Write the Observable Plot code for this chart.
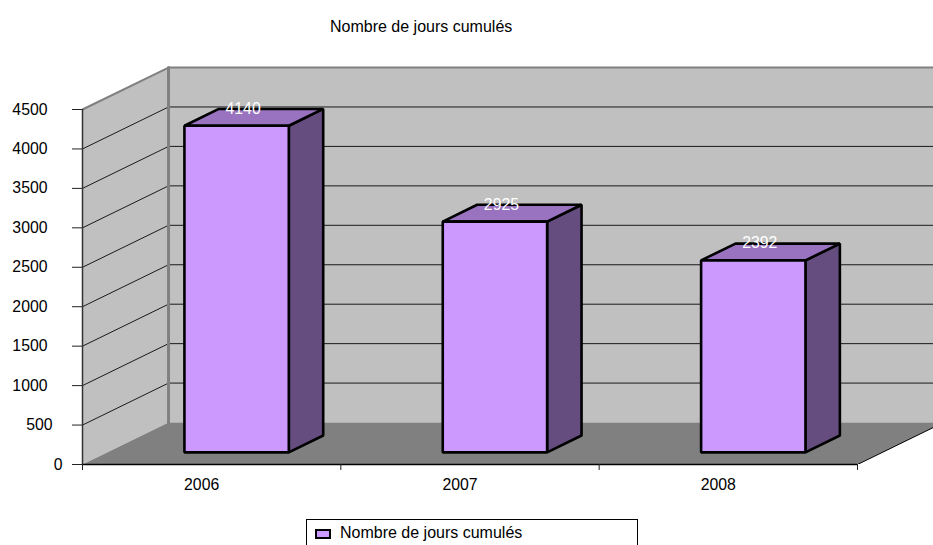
<!DOCTYPE html>
<html><head><meta charset="utf-8">
<script src="https://cdn.jsdelivr.net/npm/d3@7"></script>
<script src="https://cdn.jsdelivr.net/npm/@observablehq/plot@0.6"></script>
<style>
html,body{margin:0;padding:0;background:#fff;overflow:hidden;height:545px;width:933px;font-family:"Liberation Sans",Arial,sans-serif;color:#000}
#head{height:50px;position:relative}
#title{position:absolute;left:330px;top:19px;font-size:16px;line-height:16px;white-space:nowrap}
#chart{height:450px}
#chart svg{display:block}
#legend{position:absolute;left:306px;top:519px;width:330px;height:40px;border:1px solid #000;box-sizing:content-box}
#swatch{position:absolute;left:8px;top:9px;width:12px;height:6px;border:2.5px solid #000;background:#cc99ff}
#ltext{position:absolute;left:33px;top:5px;font-size:16px;line-height:16px;white-space:nowrap}
</style></head><body>
<div id="head"><div id="title"></div></div>
<div id="chart"></div>
<div id="legend"><div id="swatch"></div><div id="ltext"></div></div>
<script>
const titleText = "Nombre de jours cumulés";
const categories = ["2006", "2007", "2008"];
const labelValues = [4140, 2925, 2392];   // numbers printed on the bars
const barHeights = [4140, 2925, 2433];    // heights (the 2008 bar stands a little above its label)
const yTicks = [0, 500, 1000, 1500, 2000, 2500, 3000, 3500, 4000, 4500];
const gridValues = [500, 1000, 1500, 2000, 2500, 3000, 3500, 4000];

const yMax = 4500, nCat = categories.length;
// oblique projection, in data units: a full step of depth moves right and up
const depthX = 0.333, depthY = 532;
const barFront = 0.29, barBack = 0.69, barWidth = 0.404;
const P = (c, v, d) => ({x: c + d * depthX, y: v + d * depthY});
const poly = (id, pts) => pts.map(([c, v, d]) => ({id, ...P(c, v, d)}));

const backWall = poly("b", [[0,0,1],[nCat,0,1],[nCat,yMax,1],[0,yMax,1]]);
const sideWall = poly("s", [[0,0,0],[0,0,1],[0,yMax,1],[0,yMax,0]]);
const floor = poly("f", [[0,0,0],[nCat,0,0],[nCat,0,1],[0,0,1]]);
const grid = gridValues.flatMap(v => poly(v, [[0,v,0],[0,v,1],[nCat,v,1]]));
const topEdge = poly("t", [[0,yMax,0],[0,yMax,1],[nCat,yMax,1]]);
const cornerEdge = poly("c", [[0,yMax,1],[0,0,1]]);
const floorEdge = poly("e", [[nCat,0,0],[nCat,0,1]]);

const fronts = [], tops = [], sides = [];
barHeights.forEach((v, i) => {
  const l = i + (1 - barWidth) / 2, r = l + barWidth;
  fronts.push(...poly(i, [[l,0,barFront],[r,0,barFront],[r,v,barFront],[l,v,barFront]]));
  tops.push(...poly(i, [[l,v,barFront],[r,v,barFront],[r,v,barBack],[l,v,barBack]]));
  sides.push(...poly(i, [[r,0,barFront],[r,0,barBack],[r,v,barBack],[r,v,barFront]]));
});
const valueLabels = labelValues.map((n, i) => ({n, ...P(i + 0.5, barHeights[i], barFront)}));
const catLabels = categories.map((t, i) => ({t, c: i + 0.5}));

const line = (data, o) => Plot.line(data, {x: "x", y: "y", z: "id", ...o});
const face = (data, fill, o = {}) => line(data, {fill, curve: "linear-closed", strokeLinejoin: "miter", ...o});
const yAxis = (ticks, tickPadding) => Plot.axisY({ticks, tickFormat: d3.format("d"), tickSize: 10, tickPadding,
  stroke: "#222", fill: "#000", fontSize: 15.8, label: null, anchor: "left"});

const plot = Plot.plot({
  width: 933, height: 450,
  marginLeft: 82, marginRight: 0, marginTop: 0, marginBottom: 36,
  x: {domain: [0, nCat], range: [82, 857]},
  y: {domain: [0, yMax], range: [414, 59]},
  style: {fontFamily: '"Liberation Sans", Arial, sans-serif', fontSize: "15.8px", background: "transparent", overflow: "hidden"},
  marks: [
    face(backWall, "#c0c0c0", {stroke: "none", clip: true}),
    face(sideWall, "#c0c0c0", {stroke: "none"}),
    face(floor, "#808080", {stroke: "none", clip: true}),
    line(grid, {stroke: "#1a1a1a", strokeWidth: 1, clip: true}),
    line(topEdge, {stroke: "#808080", strokeWidth: 2, clip: true}),
    line(cornerEdge, {stroke: "#808080", strokeWidth: 3}),
    line(floorEdge, {stroke: "#000", strokeWidth: 1, clip: true}),
    yAxis(yTicks.filter(t => t >= 1000), 25),
    yAxis([500], 20),
    yAxis([0], 10),
    Plot.ruleX([0], {y1: 0, y2: yMax, stroke: "#333", strokeWidth: 1.5}),
    Plot.ruleY([0], {x1: 0, x2: nCat, stroke: "#000", strokeWidth: 1.5}),
    Plot.axisX({ticks: d3.range(nCat + 1), tickFormat: () => "", tickSize: 6, stroke: "#222", label: null}),
    Plot.text(catLabels, {x: "c", y: () => 0, text: "t", dx: -10, dy: 20, fill: "#000", fontSize: 15.8}),
    face(sides, "#664d80", {stroke: "#000", strokeWidth: 2.6}),
    face(tops, "#9973bf", {stroke: "#000", strokeWidth: 2.6}),
    face(fronts, "#cc99ff", {stroke: "#000", strokeWidth: 2.6}),
    Plot.text(valueLabels, {x: "x", y: "y", text: d => String(d.n), dx: 6.5, dy: -17, fill: "#fff", fontSize: 15.8})
  ]
});
document.getElementById("chart").append(plot);
document.getElementById("title").textContent = titleText;
document.getElementById("ltext").textContent = titleText;
</script>
</body></html>
